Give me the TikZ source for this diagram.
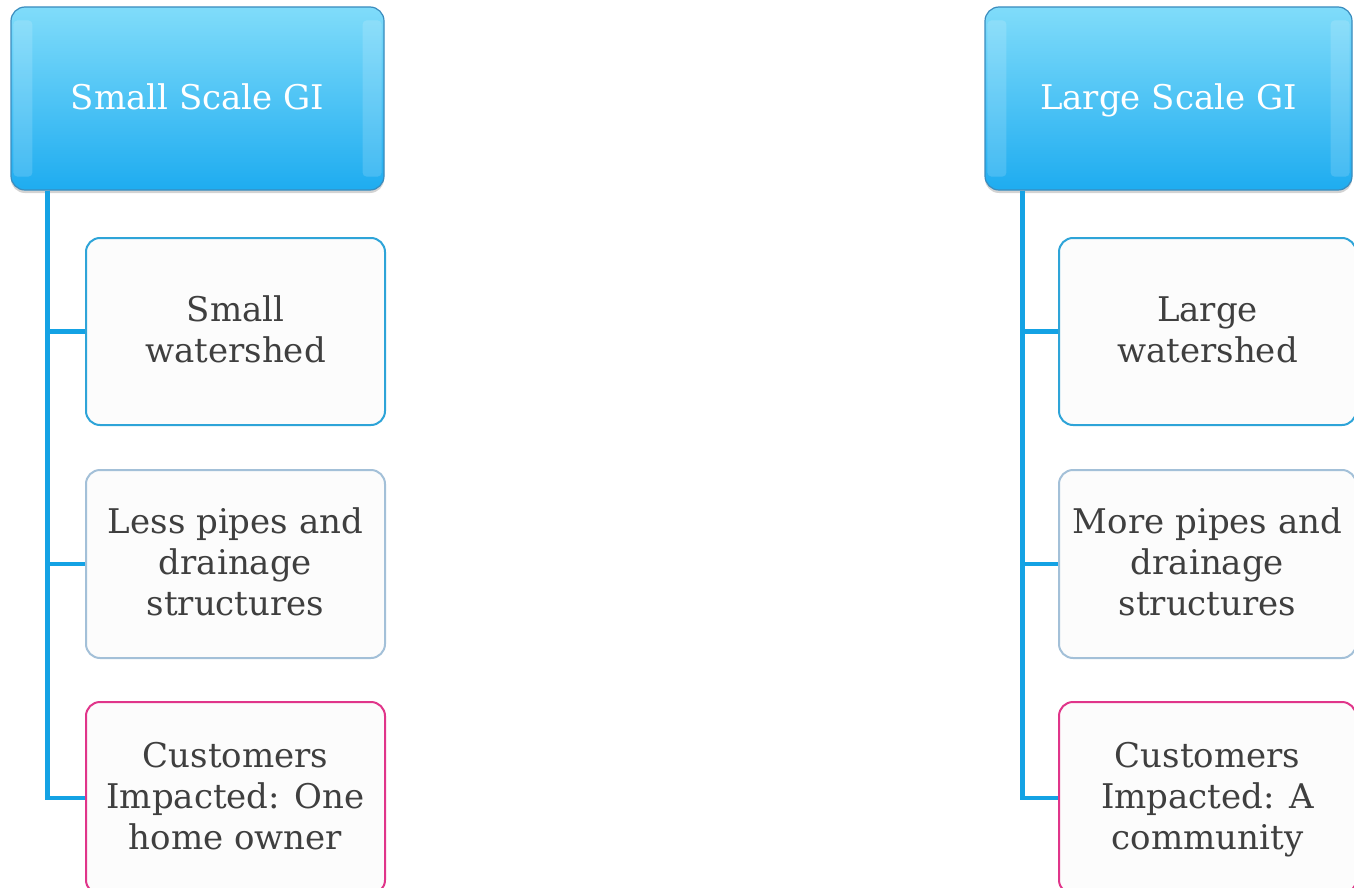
\documentclass[tikz,border=0pt]{standalone}
\usepackage{fontspec}
\setmainfont{DejaVu Serif}
\usetikzlibrary{shadows}
\definecolor{hdrtop}{HTML}{80DCFA}
\definecolor{hdrbot}{HTML}{1EACF0}
\definecolor{hdrline}{HTML}{3A8CBE}
\definecolor{conncol}{HTML}{14A2E4}
\definecolor{bluebd}{HTML}{2EA4D8}
\definecolor{graybd}{HTML}{A3C0D8}
\definecolor{pinkbd}{HTML}{E0358A}
\definecolor{boxfill}{HTML}{FCFCFC}
\definecolor{txt}{HTML}{3F3F3F}
\tikzset{
  header/.style={rectangle, rounded corners=14pt, draw=hdrline, line width=1.2pt,
    top color=hdrtop, bottom color=hdrbot, text=white,
    drop shadow={shadow xshift=0pt, shadow yshift=-3pt, opacity=0.35},
    font=\fontsize{34}{41}\selectfont, inner sep=0pt, text height=25pt, text depth=2pt},
  bevel/.style={fill=white, opacity=0.15, rounded corners=4pt},
  child/.style={rectangle, rounded corners=14pt, fill=boxfill, line width=2pt,
    text=txt, align=center, font=\fontsize{34}{41}\selectfont, inner sep=0pt,
    text depth=4pt, minimum width=299pt},
  conn/.style={draw=conncol, line width=4.5pt},
}
\begin{document}
\begin{tikzpicture}[x=1pt,y=-1pt]
\useasboundingbox (0,0) rectangle (1354,888);
% left column
\node[header, minimum width=373pt, minimum height=183pt] (h1) at (197.5,98.5) {Small Scale GI};
\fill[bevel] ([xshift=3pt,yshift=-14pt]h1.north west) rectangle ([xshift=22pt,yshift=14pt]h1.south west);
\fill[bevel] ([xshift=-3pt,yshift=-14pt]h1.north east) rectangle ([xshift=-22pt,yshift=14pt]h1.south east);
\node[child, draw=bluebd, minimum height=187pt] (a1) at (235.5,331.5) {Small\\watershed};
\node[child, draw=graybd, minimum height=188pt] (a2) at (235.5,564) {Less pipes and\\drainage\\structures};
\node[child, draw=pinkbd, minimum height=192pt] (a3) at (235.5,798) {Customers\\Impacted: One\\home owner};
\coordinate (t1) at ([xshift=37pt]h1.south west);
\draw[conn] (t1) |- (a1.west);
\draw[conn] (t1) |- (a2.west);
\draw[conn] (t1) |- (a3.west);
% right column
\node[header, minimum width=367pt, minimum height=183pt] (h2) at (1168.5,98.5) {Large Scale GI};
\fill[bevel] ([xshift=3pt,yshift=-14pt]h2.north west) rectangle ([xshift=22pt,yshift=14pt]h2.south west);
\fill[bevel] ([xshift=-3pt,yshift=-14pt]h2.north east) rectangle ([xshift=-22pt,yshift=14pt]h2.south east);
\node[child, draw=bluebd, minimum width=297pt, minimum height=187pt] (b1) at (1207.5,331.5) {Large\\watershed};
\node[child, draw=graybd, minimum width=297pt, minimum height=188pt] (b2) at (1207.5,564) {More pipes and\\drainage\\structures};
\node[child, draw=pinkbd, minimum width=297pt, minimum height=192pt] (b3) at (1207.5,798) {Customers\\Impacted: A\\community};
\coordinate (t2) at ([xshift=38pt]h2.south west);
\draw[conn] (t2) |- (b1.west);
\draw[conn] (t2) |- (b2.west);
\draw[conn] (t2) |- (b3.west);
\end{tikzpicture}
\end{document}
